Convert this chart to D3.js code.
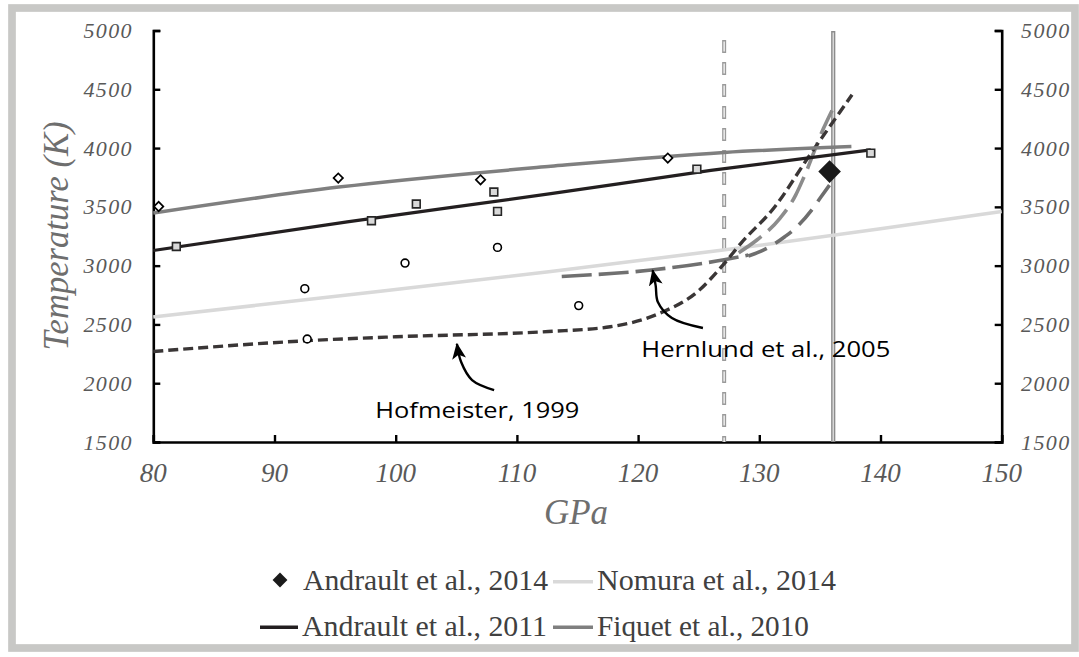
<!DOCTYPE html>
<html>
<head>
<meta charset="utf-8">
<script src="https://cdn.jsdelivr.net/npm/d3@7"></script>
<style>
  body { margin: 0; background: #fff; }
  svg { display: block; }
</style>
</head>
<body>
<script>
// Chart values (GPa, K)
var xTicks = [80, 90, 100, 110, 120, 130, 140, 150];
var yTicks = [1500, 2000, 2500, 3000, 3500, 4000, 4500, 5000];

var andrault2014 = [[135.8, 3800]];
var nomura2014 = [[80, 2563], [96, 2750], [112.8, 2951], [128, 3145], [140, 3314], [150, 3461]];
var andrault2011 = [[80, 3129], [96, 3372], [112.8, 3612], [126, 3810], [139.2, 3985]];
var fiquet2010 = [[80, 3447], [95.3, 3668], [112.8, 3845], [127.1, 3963], [137.6, 4013]];
var hofmeister1999 = [[80, 2270], [92.75, 2362], [100, 2395], [112.6, 2440], [117.7, 2480],
  [121.9, 2600], [125, 2787], [127, 3005], [128.5, 3192], [131.3, 3503], [134, 3915],
  [136.2, 4240], [137.65, 4453]];
var hernlundA = [[113.7, 2908], [121.1, 2963], [127.1, 3050], [129.1, 3090]];
var hernlundB = [[128.3, 3110], [129.8, 3218], [131.7, 3402], [133, 3600], [133.7, 3757], [135.3, 4168], [136, 4320]];
var hernlundC = [[129.1, 3082], [130.2, 3125], [132.1, 3246], [133, 3320], [134.3, 3470], [135.1, 3586], [135.9, 3700]];

var diamondPts = [[80.44, 3503], [95.26, 3745], [107.0, 3730], [122.45, 3915]];
var squarePts = [[81.9, 3163], [98.0, 3382], [101.7, 3524], [108.1, 3626], [108.4, 3461], [124.85, 3821], [139.2, 3957]];
var circlePts = [[92.5, 2804], [100.77, 3022], [108.4, 3155], [92.7, 2376], [115.1, 2660]];

var boundaryDashed = [127.1];
var boundarySolid = [136.1];

var legendRow1 = ["Andrault et al., 2014", "Nomura et al., 2014"];
var legendRow2 = ["Andrault et al., 2011", "Fiquet et al., 2010"];

// annotation anchors in data units
var hofText = {label: "Hofmeister, 1999", p: 98.32, t: 1708};
var hofArrow = [[108.12, 1942], [106.3, 2027], [105.4, 2180], [105.05, 2335]];
var hernText = {label: "Hernlund et al., 2005", p: 120.27, t: 2220};
var hernArrow = [[125.35, 2470], [122.79, 2555], [121.63, 2691], [121.45, 2830], [121.2, 2960]];

var svgWidth = 1079;
var svgHeight = 657;

var svg = d3.select("body")
  .append("svg")
  .attr("width", svgWidth)
  .attr("height", svgHeight);

// outer frame
svg.append("rect")
  .attr("x", 12).attr("y", 8)
  .attr("width", 1063).attr("height", 640)
  .attr("fill", "none")
  .attr("stroke", "#c8c8c6")
  .attr("stroke-width", 7.7);

var x = d3.scaleLinear().domain([80, 150]).range([153.3, 1001.7]);
var y = d3.scaleLinear().domain([1500, 5000]).range([442, 30.5]);

var tickColor = "#595959";

// axes, ticks pointing inward
var bottomAxis = d3.axisBottom(x).tickValues(xTicks).tickSize(-7).tickFormat("");
var leftAxis = d3.axisLeft(y).tickValues(yTicks).tickSize(-7).tickFormat("");
var rightAxis = d3.axisRight(y).tickValues(yTicks).tickSize(-7).tickFormat("");

function styleAxis(g) {
  g.selectAll("path").attr("stroke", "#000").attr("stroke-width", 2.6);
  g.selectAll("line").attr("stroke", "#000").attr("stroke-width", 2.4);
}

svg.append("g").attr("transform", "translate(0," + y(1500) + ")").call(bottomAxis).call(styleAxis);
svg.append("g").attr("transform", "translate(" + x(80) + ",0)").call(leftAxis).call(styleAxis);
svg.append("g").attr("transform", "translate(" + x(150) + ",0)").call(rightAxis).call(styleAxis);

// tick labels
svg.append("g").selectAll("text")
  .data(yTicks).enter().append("text")
  .attr("x", 133).attr("y", d => y(d) + 7.5)
  .attr("text-anchor", "end")
  .style("font-family", "Liberation Serif").style("font-style", "italic")
  .style("font-size", "22px").style("letter-spacing", "1.4px")
  .attr("fill", tickColor)
  .text(d => d);

svg.append("g").selectAll("text")
  .data(yTicks).enter().append("text")
  .attr("x", 1021).attr("y", d => y(d) + 7.5)
  .style("font-family", "Liberation Serif").style("font-style", "italic")
  .style("font-size", "22px").style("letter-spacing", "1.4px")
  .attr("fill", tickColor)
  .text(d => d);

svg.append("g").selectAll("text")
  .data(xTicks).enter().append("text")
  .attr("x", d => x(d)).attr("y", 482)
  .attr("text-anchor", "middle")
  .style("font-family", "Liberation Serif").style("font-style", "italic")
  .style("font-size", "27px")
  .attr("fill", tickColor)
  .text(d => d);

// axis titles
svg.append("text")
  .attr("x", 576).attr("y", 524)
  .attr("text-anchor", "middle")
  .style("font-family", "Liberation Serif").style("font-style", "italic")
  .style("font-size", "35px")
  .attr("fill", "#6e6e6e")
  .text("GPa");

svg.append("text")
  .attr("transform", "translate(68,236) rotate(-90)")
  .attr("text-anchor", "middle")
  .attr("textLength", 229).attr("lengthAdjust", "spacingAndGlyphs")
  .style("font-family", "Liberation Serif").style("font-style", "italic")
  .style("font-size", "35px")
  .attr("fill", "#6e6e6e")
  .text("Temperature (K)");

// boundary lines
svg.selectAll(".bdash-out").data(boundaryDashed).enter().append("line")
  .attr("x1", d => x(d)).attr("x2", d => x(d))
  .attr("y1", 40).attr("y2", y(1500))
  .attr("stroke", "#9a9a9a").attr("stroke-width", 4)
  .attr("stroke-dasharray", "13,9");
svg.selectAll(".bdash-in").data(boundaryDashed).enter().append("line")
  .attr("x1", d => x(d)).attr("x2", d => x(d))
  .attr("y1", 41.5).attr("y2", y(1500))
  .attr("stroke", "#f4f4f4").attr("stroke-width", 1.4)
  .attr("stroke-dasharray", "10,12");

svg.selectAll(".bsolid-out").data(boundarySolid).enter().append("line")
  .attr("x1", d => x(d)).attr("x2", d => x(d))
  .attr("y1", 31).attr("y2", y(1500))
  .attr("stroke", "#8c8c8c").attr("stroke-width", 4.2);
svg.selectAll(".bsolid-in").data(boundarySolid).enter().append("line")
  .attr("x1", d => x(d)).attr("x2", d => x(d))
  .attr("y1", 32.5).attr("y2", y(1500) - 1)
  .attr("stroke", "#dcdcdc").attr("stroke-width", 1.4);

// curves
var line = d3.line()
  .x(d => x(d[0]))
  .y(d => y(d[1]))
  .curve(d3.curveMonotoneX);

function drawCurve(data, color, width, dash) {
  svg.append("path")
    .datum(data)
    .attr("d", line)
    .attr("fill", "none")
    .attr("stroke", color)
    .attr("stroke-width", width)
    .attr("stroke-dasharray", dash || null);
}

drawCurve(nomura2014, "#d9d9d9", 3.5);
drawCurve(hernlundA, "#707070", 3.6, "30,7");
drawCurve(hernlundC, "#6e6e6e", 3.6, "20,10");
drawCurve(hernlundB, "#8c8c8c", 3.6, "28,9");
drawCurve(hofmeister1999, "#3a3636", 3.4, "10,5");
drawCurve(fiquet2010, "#7f7f7f", 3.5);
drawCurve(andrault2011, "#231f20", 3.2);

// scattered points
svg.append("g").selectAll("path")
  .data(diamondPts).enter().append("path")
  .attr("d", d3.symbol().type(d3.symbolSquare).size(44))
  .attr("transform", d => "translate(" + x(d[0]) + "," + y(d[1]) + ") rotate(45)")
  .attr("fill", "#fff").attr("stroke", "#000").attr("stroke-width", 1.7);

svg.append("g").selectAll("path")
  .data(squarePts).enter().append("path")
  .attr("d", d3.symbol().type(d3.symbolSquare).size(60))
  .attr("transform", d => "translate(" + x(d[0]) + "," + y(d[1]) + ")")
  .attr("fill", "#d9d9d9").attr("stroke", "#262626").attr("stroke-width", 1.6);

svg.append("g").selectAll("circle")
  .data(circlePts).enter().append("circle")
  .attr("cx", d => x(d[0])).attr("cy", d => y(d[1]))
  .attr("r", 3.9)
  .attr("fill", "#fff").attr("stroke", "#000").attr("stroke-width", 1.6);

svg.append("g").selectAll("path")
  .data(andrault2014).enter().append("path")
  .attr("d", d3.symbol().type(d3.symbolSquare).size(256))
  .attr("transform", d => "translate(" + x(d[0]) + "," + y(d[1]) + ") rotate(45)")
  .attr("fill", "#1a1a1a");

// annotations
svg.append("defs").append("marker")
  .attr("id", "head")
  .attr("viewBox", "0 0 16 14")
  .attr("refX", 15).attr("refY", 7)
  .attr("markerWidth", 16).attr("markerHeight", 14)
  .attr("markerUnits", "userSpaceOnUse")
  .attr("orient", "auto")
  .append("path")
  .attr("d", "M0,0 L16,7 L0,14 L4,7 Z")
  .attr("fill", "#000");

var arrowLine = d3.line()
  .x(d => x(d[0]))
  .y(d => y(d[1]))
  .curve(d3.curveCatmullRom);

[hofArrow, hernArrow].forEach(function(a) {
  svg.append("path")
    .datum(a)
    .attr("d", arrowLine)
    .attr("fill", "none")
    .attr("stroke", "#000")
    .attr("stroke-width", 2.4)
    .attr("marker-end", "url(#head)");
});

svg.append("text")
  .attr("x", x(hofText.p)).attr("y", y(hofText.t))
  .attr("textLength", 204).attr("lengthAdjust", "spacingAndGlyphs")
  .style("font-family", "Open Sans").style("font-size", "21px")
  .attr("fill", "#000")
  .text(hofText.label);

svg.append("text")
  .attr("x", x(hernText.p)).attr("y", y(hernText.t))
  .attr("textLength", 249).attr("lengthAdjust", "spacingAndGlyphs")
  .style("font-family", "Open Sans").style("font-size", "21px")
  .attr("fill", "#000")
  .text(hernText.label);

// legend
var legendFont = function(t) {
  t.style("font-family", "Liberation Serif").style("font-size", "30px")
    .attr("fill", "#404040").attr("lengthAdjust", "spacingAndGlyphs");
};

svg.append("path")
  .attr("d", d3.symbol().type(d3.symbolSquare).size(110))
  .attr("transform", "translate(280,580) rotate(45)")
  .attr("fill", "#1a1a1a");
svg.append("text").attr("x", 303).attr("y", 590).attr("textLength", 245)
  .call(legendFont).text(legendRow1[0]);
svg.append("line").attr("x1", 553).attr("x2", 593).attr("y1", 581.7).attr("y2", 581.7)
  .attr("stroke", "#d9d9d9").attr("stroke-width", 3.5);
svg.append("text").attr("x", 597).attr("y", 590).attr("textLength", 239)
  .call(legendFont).text(legendRow1[1]);

svg.append("line").attr("x1", 260).attr("x2", 298).attr("y1", 627.3).attr("y2", 627.3)
  .attr("stroke", "#231f20").attr("stroke-width", 3.5);
svg.append("text").attr("x", 302).attr("y", 636).attr("textLength", 245)
  .call(legendFont).text(legendRow2[0]);
svg.append("line").attr("x1", 553).attr("x2", 593).attr("y1", 627.3).attr("y2", 627.3)
  .attr("stroke", "#7f7f7f").attr("stroke-width", 3.5);
svg.append("text").attr("x", 597).attr("y", 636).attr("textLength", 212)
  .call(legendFont).text(legendRow2[1]);
</script>
</body>
</html>
